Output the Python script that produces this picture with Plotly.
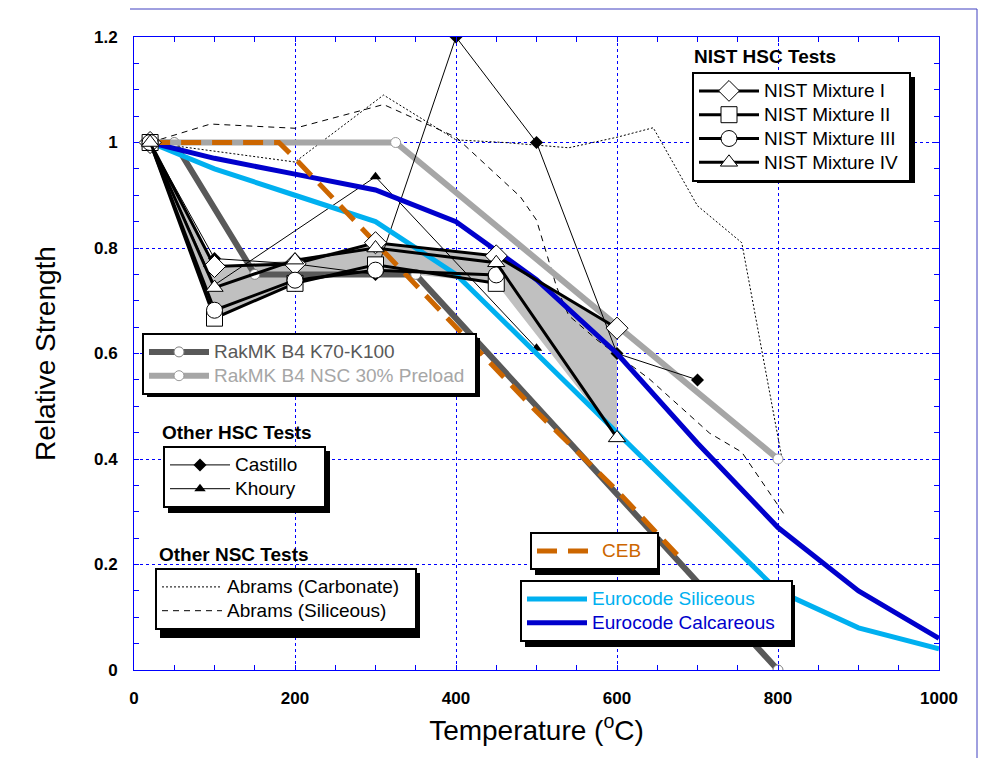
import plotly.graph_objects as go

# ---------------- data ----------------
temp_nist = [20, 100, 200, 300, 450, 600]
nist_mix1 = [1.0, 0.765, 0.77, 0.81, 0.785, 0.648]
nist_mix4 = [1.0, 0.725, 0.777, 0.80, 0.772, 0.44]
temp_nist_short = [20, 100, 200, 300, 450]
nist_mix2 = [1.0, 0.667, 0.733, 0.768, 0.733]
nist_mix3 = [1.0, 0.682, 0.739, 0.758, 0.749]

temp_castillo = [20, 100, 200, 300, 400, 500, 600, 700]
castillo = [1.0, 0.78, 0.77, 0.75, 1.2, 1.0, 0.6, 0.55]
temp_khoury = [20, 100, 300, 500]
khoury = [1.0, 0.73, 0.935, 0.61]

temp_rak_hsc = [20, 50, 150, 350, 800]
rak_hsc = [1.0, 1.0, 0.75, 0.75, 0.0]
temp_rak_nsc = [20, 325, 800]
rak_nsc = [1.0, 1.0, 0.4]

temp_ec = [20, 100, 200, 300, 400, 500, 600, 700, 800, 900, 1000]
ec_siliceous = [1.0, 0.95, 0.90, 0.85, 0.75, 0.60, 0.45, 0.30, 0.15, 0.08, 0.04]
ec_calcareous = [1.0, 0.97, 0.94, 0.91, 0.85, 0.74, 0.60, 0.43, 0.27, 0.15, 0.06]

temp_ceb = [20, 180, 200, 300, 400, 500, 600, 680]
ceb = [1.0, 1.0, 0.97, 0.81, 0.65, 0.49, 0.34, 0.21]

temp_abr_carb = [20, 200, 310, 400, 460, 540, 600, 645, 700, 755, 805]
abrams_carb = [1.0, 0.963, 1.09, 1.005, 1.0, 0.99, 1.01, 1.028, 0.88, 0.81, 0.40]
temp_abr_sil = [20, 95, 200, 310, 400, 480, 500, 525, 540, 575, 640, 715, 755, 810]
abrams_sil = [1.0, 1.035, 1.027, 1.072, 1.01, 0.897, 0.853, 0.726, 0.672, 0.626, 0.552, 0.449, 0.413, 0.29]

x_ticks = [0, 200, 400, 600, 800, 1000]
y_ticks = [0, 0.2, 0.4, 0.6, 0.8, 1.0, 1.2]

# ---------------- styles ----------------
FONT = "Liberation Sans, Arial, sans-serif"
BLUE = "#0000FF"
DARKGRAY = "#595959"
LIGHTGRAY = "#A6A6A6"
EC_SIL = "#00B0F0"
EC_CAL = "#0000CC"
CEB_C = "#CC6600"
ROW_SIZE = 16      # controls legend row spacing
TXT_SIZE = 19      # rendered legend text size
NB = "\u00a0"


def lbl(text, color="#000000", pad=0):
    return "<span style='font-size:%dpx;color:%s'>%s</span>" % (TXT_SIZE, color, text + NB * pad)


fig = go.Figure()

# envelope of NIST results (shaded band)
series = [(temp_nist, nist_mix1), (temp_nist_short, nist_mix2),
          (temp_nist_short, nist_mix3), (temp_nist, nist_mix4)]
upper, lower = [], []
for t in temp_nist:
    vals = [ys[xs.index(t)] for xs, ys in series if t in xs]
    upper.append(max(vals))
    lower.append(min(vals))
fig.add_trace(go.Scatter(x=temp_nist + temp_nist[::-1], y=upper + lower[::-1],
                         fill="toself", fillcolor="#C0C0C0", mode="lines",
                         line=dict(width=0), showlegend=False, hoverinfo="skip"))

# Abrams
fig.add_trace(go.Scatter(x=temp_abr_carb, y=abrams_carb, mode="lines", name=lbl("Abrams (Carbonate)", pad=2),
                         line=dict(color="#000000", width=1, dash="2px,2px"), legend="legend4"))
fig.add_trace(go.Scatter(x=temp_abr_sil, y=abrams_sil, mode="lines", name=lbl("Abrams (Siliceous)"),
                         line=dict(color="#000000", width=1, dash="6px,5px"), legend="legend4"))

# RakMK
fig.add_trace(go.Scatter(x=temp_rak_hsc, y=rak_hsc, mode="lines+markers",
                         name=lbl("RakMK B4 K70-K100", DARKGRAY),
                         line=dict(color=DARKGRAY, width=6),
                         marker=dict(symbol="circle", size=10, color="white", line=dict(color="#808080", width=1)),
                         legend="legend2"))
fig.add_trace(go.Scatter(x=temp_rak_nsc, y=rak_nsc, mode="lines+markers",
                         name=lbl("RakMK B4 NSC 30% Preload", LIGHTGRAY, pad=1),
                         line=dict(color=LIGHTGRAY, width=6),
                         marker=dict(symbol="circle", size=10, color="white", line=dict(color="#999999", width=1)),
                         legend="legend2"))

# Other HSC
fig.add_trace(go.Scatter(x=temp_castillo, y=castillo, mode="lines+markers", name=lbl("Castillo", pad=4),
                         line=dict(color="#000000", width=1),
                         marker=dict(symbol="diamond", size=10, color="#000000"), legend="legend3"))
fig.add_trace(go.Scatter(x=temp_khoury, y=khoury, mode="lines+markers", name=lbl("Khoury"),
                         line=dict(color="#000000", width=1),
                         marker=dict(symbol="triangle-up", size=10, color="#000000"), legend="legend3"))

# Eurocode
fig.add_trace(go.Scatter(x=temp_ec, y=ec_siliceous, mode="lines",
                         name=lbl("Eurocode Siliceous", EC_SIL),
                         line=dict(color=EC_SIL, width=5), legend="legend6"))
fig.add_trace(go.Scatter(x=temp_ec, y=ec_calcareous, mode="lines",
                         name=lbl("Eurocode Calcareous", EC_CAL, pad=2),
                         line=dict(color=EC_CAL, width=5), legend="legend6"))

# CEB
fig.add_trace(go.Scatter(x=temp_ceb, y=ceb, mode="lines", name=lbl("CEB", CEB_C, pad=2),
                         line=dict(color=CEB_C, width=5, dash="20px,11px"), legend="legend5"))

# NIST
nist_style = [("NIST Mixture I", temp_nist, nist_mix1, "diamond", 17),
              ("NIST Mixture II", temp_nist_short, nist_mix2, "square", 16),
              ("NIST Mixture III", temp_nist_short, nist_mix3, "circle", 16),
              ("NIST Mixture IV", temp_nist, nist_mix4, "triangle-up", 15)]
for name, xs, ys, sym, sz in nist_style:
    fig.add_trace(go.Scatter(x=xs, y=ys, mode="lines+markers",
                             name=lbl(name, pad=1 if name.endswith("IV") else 0),
                             line=dict(color="#000000", width=3),
                             marker=dict(symbol=sym, size=sz, color="white", line=dict(color="#000000", width=1)),
                             legend="legend"))

# ---------------- layout ----------------
# page is shown with an 8px body margin; plot area spans page px 134..939 x 37..670
OFF = 8
W, H = 978, 751
L, T = 134 - OFF, 37 - OFF
PW, PH = 805, 633
R = W - L - PW
B = H - T - PH


def px(xp):
    return (xp - 134) / PW


def py(yp):
    return (670 - yp) / PH


leg_common = dict(bgcolor="white", bordercolor="#000000", borderwidth=2,
                  font=dict(family=FONT, size=ROW_SIZE, color="#000000"),
                  xanchor="left", yanchor="top", tracegroupgap=0, itemwidth=60)

fig.update_layout(
    width=W, height=H,
    margin=dict(l=L, r=R, t=T, b=B),
    paper_bgcolor="white", plot_bgcolor="white",
    font=dict(family=FONT, color="#000000"),
    legend=dict(x=px(692), y=py(72), **leg_common),
    legend2=dict(x=px(142), y=py(333), **leg_common),
    legend3=dict(x=px(163), y=py(446), **leg_common),
    legend4=dict(x=px(155), y=py(568), **leg_common),
    legend5=dict(x=px(530), y=py(532), **leg_common),
    legend6=dict(x=px(520), y=py(580), **leg_common),
    showlegend=True,
)

axis_common = dict(showline=True, linecolor=BLUE, linewidth=1, mirror="ticks",
                   ticks="inside", ticklen=5, tickcolor=BLUE, tickwidth=1,
                   showgrid=True, gridcolor=BLUE, gridwidth=1, griddash="dot",
                   zeroline=False,
                   tickfont=dict(family=FONT, size=17, color="#000000", weight="bold"))

fig.update_xaxes(range=[0, 1000], tickvals=x_ticks,
                 minor=dict(dtick=50, ticks="inside", ticklen=5, tickcolor=BLUE, showgrid=False),
                 title=dict(text="Temperature (<sup>o</sup>C)", font=dict(family=FONT, size=28), standoff=12),
                 ticklabelstandoff=13, **axis_common)
fig.update_yaxes(range=[0, 1.2], tickvals=y_ticks,
                 minor=dict(dtick=0.05, ticks="inside", ticklen=5, tickcolor=BLUE, showgrid=False),
                 title=dict(text="Relative Strength", font=dict(family=FONT, size=28), standoff=30),
                 ticklabelstandoff=12, **axis_common)

# legend titles
for txt, xp, yp in [("NIST HSC Tests", 692, 57), ("Other HSC Tests", 160, 432), ("Other NSC Tests", 157, 554)]:
    fig.add_annotation(text="<b>%s</b>" % txt, x=px(xp), y=py(yp), xref="paper", yref="paper",
                       xanchor="left", yanchor="middle", showarrow=False,
                       font=dict(family=FONT, size=TXT_SIZE, color="#000000"))

# drop shadows behind legend boxes
for x0, y0, x1, y1 in [(692, 72, 910, 178), (142, 333, 475, 392), (163, 446, 325, 508),
                       (155, 568, 415, 633), (530, 532, 655, 570), (520, 580, 790, 642)]:
    fig.add_shape(type="rect", xref="paper", yref="paper", layer="above",
                  x0=px(x0 + 5), x1=px(x1 + 5), y0=py(y0 + 5), y1=py(y1 + 5),
                  fillcolor="#000000", line=dict(width=0))

# outer frame (top and right edges visible)
fig.add_shape(type="line", xref="paper", yref="paper", x0=px(130), x1=px(977), y0=py(9), y1=py(9),
              line=dict(color="#4040C0", width=1))
fig.add_shape(type="line", xref="paper", yref="paper", x0=px(977), x1=px(977), y0=py(9), y1=py(758),
              line=dict(color="#4040C0", width=1))

fig.write_html("out.html")
